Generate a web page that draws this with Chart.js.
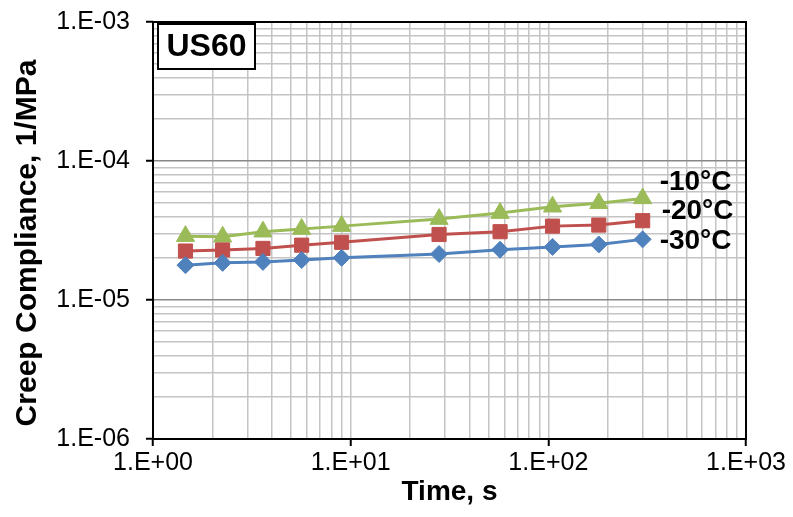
<!DOCTYPE html>
<html>
<head>
<meta charset="utf-8">
<script src="https://cdn.jsdelivr.net/npm/chart.js@4/dist/chart.umd.min.js"></script>
<style>
  html, body { margin: 0; padding: 0; background: #fff; }
  #wrap { width: 793px; height: 517px; position: relative; }
</style>
</head>
<body>
<div id="wrap"><canvas id="creepChart"></canvas></div>
<script>
// ===========================
// DATA
// ===========================
const seriesLabels = ['-30°C', '-20°C', '-10°C'];
const seriesColors = ['#4f81bd', '#c0504d', '#9bbb59'];
const seriesMarkers = ['rectRot', 'rect', 'triangle'];

// loading time, s
const times = [1.46, 2.25, 3.6, 5.65, 9, 28, 57, 105, 180, 300];

// creep compliance, 1/MPa
const minus30 = [1.78e-5, 1.85e-5, 1.88e-5, 1.94e-5, 2.01e-5, 2.14e-5, 2.30e-5, 2.41e-5, 2.51e-5, 2.73e-5];
const minus20 = [2.25e-5, 2.29e-5, 2.35e-5, 2.48e-5, 2.60e-5, 2.96e-5, 3.10e-5, 3.40e-5, 3.46e-5, 3.72e-5];
const minus10 = [2.88e-5, 2.85e-5, 3.10e-5, 3.24e-5, 3.40e-5, 3.82e-5, 4.22e-5, 4.69e-5, 4.96e-5, 5.38e-5];

const xMajor = [1, 10, 100, 1000];
const xTickLabels = ['1.E+00', '1.E+01', '1.E+02', '1.E+03'];
const yMajor = [1e-6, 1e-5, 1e-4, 1e-3];
const yTickLabels = ['1.E-06', '1.E-05', '1.E-04', '1.E-03'];

const sampleName = 'US60';

// ===========================
// HELPERS
// ===========================
// decade ticks 1..9 x 10^n, flagged major at the powers of ten
function logTicks(majors) {
  const out = [];
  majors.forEach((m, i) => {
    out.push({ value: m, major: true });
    if (i < majors.length - 1) {
      for (let k = 2; k <= 9; k++) out.push({ value: m * k, major: false });
    }
  });
  return out;
}

function tickLabel(majors, labels, value) {
  const i = majors.findIndex(m => Math.abs(m - value) / m < 1e-6);
  return i >= 0 ? labels[i] : '';
}

const series = [minus30, minus20, minus10];
const radii = [8.5, 10, 10.5];
// label offset from the last point of each series
const labelOffsets = [[17, 2], [19, -9], [17, -16]];

const datasets = series.map((vals, i) => ({
  label: seriesLabels[i],
  data: times.map((t, j) => ({ x: t, y: vals[j] })),
  borderColor: seriesColors[i],
  backgroundColor: seriesColors[i],
  pointBackgroundColor: seriesColors[i],
  pointBorderColor: seriesColors[i],
  pointStyle: seriesMarkers[i],
  pointRadius: radii[i],
  pointBorderWidth: 1,
  borderWidth: 3,
  tension: 0,
  fill: false,
}));

// ===========================
// PLUGINS
// ===========================
const frame = {
  id: 'frame',
  beforeDatasetsDraw(chart) {
    const { ctx, chartArea: a } = chart;
    ctx.save();
    ctx.strokeStyle = '#000';
    ctx.lineWidth = 2;
    ctx.strokeRect(a.left, a.top, a.right - a.left, a.bottom - a.top);
    ctx.restore();
  },
  afterDatasetsDraw(chart) {
    const { ctx, chartArea: a } = chart;
    ctx.save();
    // series labels next to the last points
    ctx.font = 'bold 28px "Liberation Sans", Arial, sans-serif';
    ctx.fillStyle = '#000';
    ctx.textAlign = 'left';
    ctx.textBaseline = 'middle';
    chart.data.datasets.forEach((ds, i) => {
      const pts = chart.getDatasetMeta(i).data;
      const p = pts[pts.length - 1];
      ctx.fillText(ds.label, p.x + labelOffsets[i][0], p.y + labelOffsets[i][1]);
    });
    // sample box
    const bx = a.left + 5, by = a.top + 2, bw = 97, bh = 45;
    ctx.fillStyle = '#fff';
    ctx.fillRect(bx, by, bw, bh);
    ctx.strokeStyle = '#000';
    ctx.lineWidth = 2;
    ctx.strokeRect(bx, by, bw, bh);
    ctx.fillStyle = '#000';
    ctx.font = 'bold 32px "Liberation Sans", Arial, sans-serif';
    ctx.textAlign = 'center';
    ctx.fillText(sampleName, bx + bw / 2, by + bh / 2 + 1);
    ctx.restore();
  }
};

// ===========================
// CHART
// ===========================
const tickFont = { family: '"Liberation Sans", Arial, sans-serif', size: 25 };
const titleFont = { family: '"Liberation Sans", Arial, sans-serif', size: 30, weight: 'bold' };

new Chart(document.getElementById('creepChart'), {
  type: 'line',
  data: { datasets },
  options: {
    responsive: true,
    maintainAspectRatio: false,
    animation: false,
    layout: { padding: { top: 22, right: 47, bottom: 0, left: 0 } },
    plugins: { legend: { display: false }, tooltip: { enabled: false } },
    scales: {
      x: {
        type: 'logarithmic',
        min: 1,
        max: 1000,
        afterBuildTicks: s => { s.ticks = logTicks(xMajor); },
        afterFit: s => { s.height = 78; s.paddingLeft = 0; s.paddingRight = 0; },
        grid: {
          color: '#c4c4c4',
          lineWidth: 1.5,
          tickLength: 7,
          tickColor: c => (c.tick && c.tick.major ? '#000' : 'rgba(0,0,0,0)'),
          tickWidth: 2,
        },
        border: { display: false },
        ticks: {
          autoSkip: false,
          maxRotation: 0,
          minRotation: 0,
          padding: 2,
          color: '#000',
          font: tickFont,
          callback: v => tickLabel(xMajor, xTickLabels, v),
        },
        title: {
          display: true,
          text: 'Time, s',
          color: '#000',
          font: { ...titleFont, size: 28 },
          padding: { top: 0, bottom: 8 },
        },
      },
      y: {
        type: 'logarithmic',
        min: 1e-6,
        max: 1e-3,
        afterBuildTicks: s => { s.ticks = logTicks(yMajor); },
        afterFit: s => { s.width = 153; s.paddingTop = 0; s.paddingBottom = 0; },
        grid: {
          color: c => (c.tick && c.tick.major ? '#888888' : '#c4c4c4'),
          lineWidth: 1.5,
          tickLength: 7,
          tickColor: c => (c.tick && c.tick.major ? '#000' : 'rgba(0,0,0,0)'),
          tickWidth: 2,
        },
        border: { display: false },
        ticks: {
          autoSkip: false,
          padding: 16,
          color: '#000',
          font: tickFont,
          callback: v => tickLabel(yMajor, yTickLabels, v),
        },
        title: {
          display: true,
          text: 'Creep Compliance, 1/MPa   ',
          color: '#000',
          font: titleFont,
          padding: { top: 10, bottom: 0 },
        },
      },
    },
  },
  plugins: [frame],
});
</script>
</body>
</html>
